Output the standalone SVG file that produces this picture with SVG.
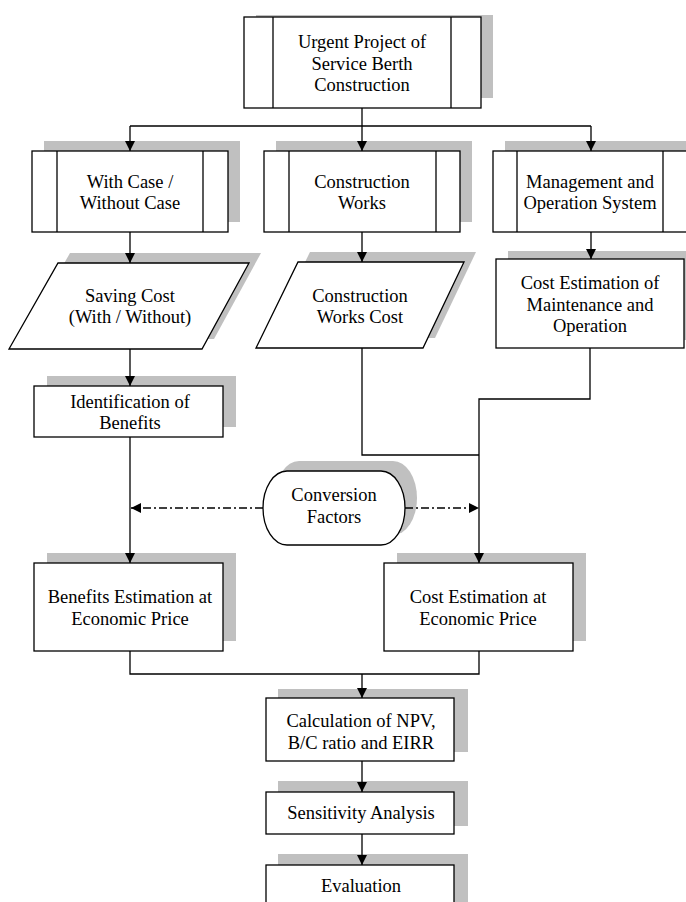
<svg xmlns="http://www.w3.org/2000/svg" width="686" height="902" viewBox="0 0 686 902">
<defs>
<style>
.sh{fill:#c0c0c0;stroke:none}
.bx{fill:#fff;stroke:#000;stroke-width:1.3}
.ln{fill:none;stroke:#000;stroke-width:1.3}
.cn{fill:none;stroke:#000;stroke-width:1.3}
.dd{fill:none;stroke:#000;stroke-width:1.3;stroke-dasharray:8,3,2,3}
text{font-family:"Liberation Serif","Times New Roman",serif;font-size:18.5px;fill:#000;text-anchor:middle}
</style>
<marker id="ah" viewBox="0 0 10 10" refX="10" refY="5" markerWidth="10" markerHeight="10" markerUnits="userSpaceOnUse" orient="auto">
<path d="M0,0 L10,5 L0,10 z" fill="#000"/>
</marker>
</defs>
<rect width="686" height="902" fill="#fff"/>

<g id="urgent">
<rect class="sh" x="256" y="15" width="237" height="83"/>
<rect class="bx" x="244" y="17" width="237" height="91"/>
<line class="ln" x1="273" y1="17" x2="273" y2="108"/>
<line class="ln" x1="451" y1="17" x2="451" y2="108"/>
<text x="362" y="48">Urgent Project of</text>
<text x="362" y="70">Service Berth</text>
<text x="362" y="91">Construction</text>
</g>

<g id="withcase">
<rect class="sh" x="44" y="141" width="196" height="81"/>
<rect class="bx" x="32" y="151" width="196" height="81"/>
<line class="ln" x1="57" y1="151" x2="57" y2="232"/>
<line class="ln" x1="203" y1="151" x2="203" y2="232"/>
<text x="130" y="188">With Case /</text>
<text x="130" y="209">Without Case</text>
</g>

<g id="constructionworks">
<rect class="sh" x="276" y="141" width="196" height="81"/>
<rect class="bx" x="264" y="151" width="196" height="81"/>
<line class="ln" x1="289" y1="151" x2="289" y2="232"/>
<line class="ln" x1="436" y1="151" x2="436" y2="232"/>
<text x="362" y="188">Construction</text>
<text x="362" y="209">Works</text>
</g>

<g id="management">
<rect class="sh" x="505" y="141" width="196" height="81"/>
<rect class="bx" x="493" y="151" width="196" height="81"/>
<line class="ln" x1="517" y1="151" x2="517" y2="232"/>
<line class="ln" x1="663" y1="151" x2="663" y2="232"/>
<text x="590" y="188">Management and</text>
<text x="590" y="209">Operation System</text>
</g>

<g id="savingcost">
<polygon class="sh" points="70,253 261,253 214,339 21,339"/>
<polygon class="bx" points="58,263 249,263 202,349 9,349"/>
<text x="130" y="302">Saving Cost</text>
<text x="130" y="323">(With / Without)</text>
</g>

<g id="constructioncost">
<polygon class="sh" points="310,252 476,252 435,338 268,338"/>
<polygon class="bx" points="298,262 464,262 423,348 256,348"/>
<text x="360" y="302">Construction</text>
<text x="360" y="323">Works Cost</text>
</g>

<g id="maintenance">
<rect class="sh" x="508" y="251" width="188" height="89"/>
<rect class="bx" x="496" y="259" width="188" height="89"/>
<text x="590" y="289">Cost Estimation of</text>
<text x="590" y="311">Maintenance and</text>
<text x="590" y="332">Operation</text>
</g>

<g id="identification">
<rect class="sh" x="47" y="376" width="189" height="51"/>
<rect class="bx" x="34" y="386" width="189" height="51"/>
<text x="130" y="408">Identification of</text>
<text x="130" y="429">Benefits</text>
</g>

<g id="conversion">
<path class="sh" d="M299,461 H393 A24,37 0 0 1 393,535 H299 A24,37 0 0 1 299,461 Z"/>
<path class="bx" d="M287,471 H381 A24,37 0 0 1 381,545 H287 A24,37 0 0 1 287,471 Z"/>
<text x="334" y="501">Conversion</text>
<text x="334" y="523">Factors</text>
</g>

<g id="benefitsest">
<rect class="sh" x="47" y="553" width="189" height="88"/>
<rect class="bx" x="34" y="563" width="189" height="88"/>
<text x="130" y="603">Benefits Estimation at</text>
<text x="130" y="625">Economic Price</text>
</g>

<g id="costest">
<rect class="sh" x="397" y="553" width="189" height="88"/>
<rect class="bx" x="384" y="563" width="189" height="88"/>
<text x="478" y="603">Cost Estimation at</text>
<text x="478" y="625">Economic Price</text>
</g>

<g id="calculation">
<rect class="sh" x="278" y="689" width="190" height="63"/>
<rect class="bx" x="266" y="698" width="188" height="63"/>
<text x="361" y="727">Calculation of NPV,</text>
<text x="361" y="749">B/C ratio and EIRR</text>
</g>

<g id="sensitivity">
<rect class="sh" x="278" y="781" width="190" height="45"/>
<rect class="bx" x="266" y="792" width="188" height="42"/>
<text x="361" y="819">Sensitivity Analysis</text>
</g>

<g id="evaluation">
<rect class="sh" x="278" y="854" width="190" height="60"/>
<rect class="bx" x="266" y="865" width="188" height="50"/>
<text x="361" y="892">Evaluation</text>
</g>

<g id="connectors">
<path class="cn" d="M362,108 V126"/>
<path class="cn" d="M130,126 H591"/>
<path class="cn" d="M130,126 V151" marker-end="url(#ah)"/>
<path class="cn" d="M362,126 V151" marker-end="url(#ah)"/>
<path class="cn" d="M591,126 V151" marker-end="url(#ah)"/>
<path class="cn" d="M130,232 V263" marker-end="url(#ah)"/>
<path class="cn" d="M362,232 V262" marker-end="url(#ah)"/>
<path class="cn" d="M591,232 V259" marker-end="url(#ah)"/>
<path class="cn" d="M130,349 V386" marker-end="url(#ah)"/>
<path class="cn" d="M362,348 V455 H479"/>
<path class="cn" d="M590,348 V399 H479 V563" marker-end="url(#ah)"/>
<path class="cn" d="M130,437 V563" marker-end="url(#ah)"/>
<path class="dd" d="M263,508 H131" marker-end="url(#ah)"/>
<path class="dd" d="M405,508 H479" marker-end="url(#ah)"/>
<path class="cn" d="M130,651 V674 H479 V651"/>
<path class="cn" d="M362,674 V698" marker-end="url(#ah)"/>
<path class="cn" d="M362,761 V792" marker-end="url(#ah)"/>
<path class="cn" d="M362,834 V865" marker-end="url(#ah)"/>
</g>
</svg>
